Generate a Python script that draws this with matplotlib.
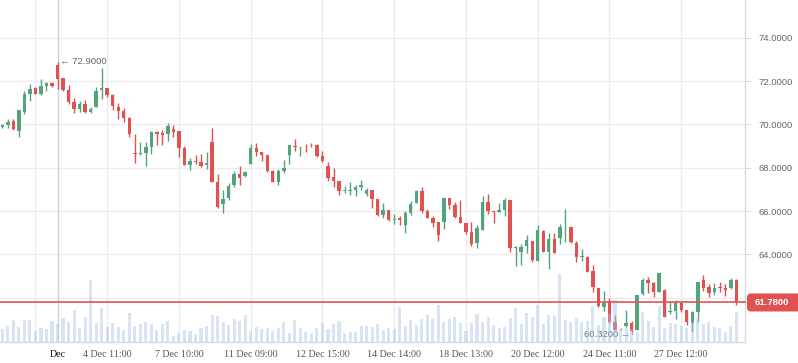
import matplotlib
matplotlib.use('Agg')
import matplotlib.pyplot as plt
from matplotlib.patches import FancyBboxPatch
from matplotlib.transforms import IdentityTransform, blended_transform_factory
import numpy as np

# ---------------- data ----------------
opens = [69.89, 69.98, 70.15, 69.69, 70.55, 71.42, 71.69, 71.42, 71.77, 71.91,
         72.74, 72.12, 71.60, 71.03, 70.69, 70.94, 70.57, 70.82, 71.60, 71.69,
         71.35, 70.82, 70.63, 70.29, 68.68, 68.63, 68.69, 68.97, 69.65, 69.62,
         69.55, 69.78, 69.69, 68.92, 68.14, 68.31, 68.26, 68.14, 69.18, 67.35,
         66.32, 66.60, 67.18, 67.69, 67.60, 68.15, 68.89, 68.72, 68.60, 67.85,
         67.34, 67.85, 68.60, 68.98, 68.98, 69.02, 69.02, 69.04, 68.56, 68.08,
         67.57, 67.37, 66.92, 66.94, 66.96, 67.11, 66.79, 66.96, 66.55, 65.83,
         66.05, 65.60, 65.66, 65.37, 65.92, 66.38, 66.92, 66.00, 65.68, 65.50,
         65.51, 66.58, 66.28, 65.72, 65.46, 65.03, 64.54, 65.12, 66.40, 66.00,
         65.97, 66.06, 66.51, 64.31, 64.12, 64.40, 64.62, 63.71, 65.08, 64.12,
         64.71, 64.75, 65.25, 65.28, 64.52, 63.88, 63.90, 63.23, 62.43, 61.58,
         61.85, 60.89, 60.56, 60.69, 60.85, 60.51, 62.15, 62.83, 62.69, 62.28,
         62.35, 61.32, 61.38, 61.77, 61.43, 60.85, 61.35, 62.82, 62.49, 62.25,
         62.49, 62.45, 62.43, 62.82]
highs = [70.02, 70.23, 70.25, 70.66, 71.54, 71.86, 71.72, 72.09, 71.97, 71.97,
         72.90, 72.12, 71.82, 71.20, 71.08, 71.12, 70.78, 71.71, 72.62, 71.69,
         71.42, 70.97, 70.74, 70.34, 69.55, 69.17, 69.17, 69.69, 69.69, 69.74,
         70.08, 69.97, 69.69, 69.00, 68.46, 68.58, 68.63, 68.74, 69.85, 67.72,
         66.95, 67.31, 67.83, 68.08, 67.86, 69.11, 69.15, 68.72, 68.60, 67.88,
         67.95, 68.35, 69.05, 69.32, 69.02, 69.11, 69.14, 69.07, 68.75, 68.24,
         67.97, 67.37, 67.15, 67.33, 67.21, 67.42, 67.08, 66.96, 66.55, 66.37,
         66.05, 65.86, 65.77, 65.98, 66.46, 66.96, 67.10, 66.08, 65.76, 65.50,
         66.58, 66.58, 66.40, 66.51, 65.46, 65.48, 65.37, 66.71, 66.78, 66.00,
         66.37, 66.60, 66.51, 64.40, 64.48, 64.89, 64.62, 65.35, 65.12, 65.00,
         64.98, 65.42, 66.09, 65.28, 64.62, 64.25, 63.94, 63.51, 62.43, 62.31,
         62.00, 61.20, 60.58, 61.45, 60.94, 62.12, 62.92, 62.94, 62.74, 63.14,
         62.40, 61.85, 61.88, 61.77, 61.43, 61.38, 62.74, 63.06, 62.65, 62.69,
         62.74, 62.62, 62.92, 62.85]
lows = [69.83, 69.85, 69.74, 69.43, 70.46, 71.09, 71.40, 71.35, 71.55, 71.71,
        71.65, 71.54, 70.94, 70.52, 70.55, 70.52, 70.52, 70.82, 71.18, 71.25,
        70.65, 70.23, 70.12, 69.42, 68.23, 68.58, 68.09, 68.63, 69.05, 69.05,
        69.25, 69.40, 68.51, 68.12, 67.89, 68.18, 68.05, 67.94, 67.35, 66.15,
        65.92, 66.51, 67.12, 67.20, 67.57, 68.15, 68.55, 68.31, 67.82, 67.34,
        67.22, 67.74, 68.15, 68.78, 68.56, 68.72, 68.95, 68.49, 68.24, 67.39,
        67.11, 66.73, 66.82, 66.75, 66.70, 66.96, 66.70, 66.15, 65.77, 65.66,
        65.54, 65.40, 65.37, 64.99, 65.82, 66.35, 65.91, 65.66, 65.27, 64.60,
        65.16, 66.09, 65.69, 65.46, 64.92, 64.40, 64.31, 65.12, 65.88, 65.46,
        65.94, 65.78, 64.12, 63.46, 63.52, 64.06, 63.63, 63.71, 64.12, 63.32,
        64.05, 64.49, 64.57, 64.51, 63.65, 63.68, 63.18, 62.28, 61.58, 61.38,
        60.82, 60.51, 60.50, 60.66, 60.32, 60.51, 62.12, 62.23, 62.05, 62.28,
        61.12, 61.25, 61.00, 61.32, 60.74, 60.48, 60.89, 62.32, 62.02, 62.14,
        62.25, 62.09, 62.40, 61.68]
closes = [69.97, 70.11, 69.78, 70.66, 71.40, 71.63, 71.42, 71.77, 71.92, 71.77,
          72.09, 71.57, 71.05, 70.71, 70.94, 70.57, 70.69, 71.55, 71.69, 71.35,
          70.86, 70.63, 70.29, 69.54, 68.65, 68.66, 68.94, 69.66, 69.57, 69.52,
          69.92, 69.66, 68.92, 68.12, 68.31, 68.26, 68.09, 68.22, 67.35, 66.18,
          66.54, 67.15, 67.69, 67.54, 67.78, 68.89, 68.72, 68.60, 67.85, 67.35,
          67.83, 67.97, 69.05, 68.95, 69.02, 68.99, 68.98, 68.56, 68.29, 67.51,
          67.37, 66.92, 66.95, 66.97, 67.10, 67.21, 66.96, 66.56, 65.82, 66.05,
          65.59, 65.65, 65.60, 65.92, 66.32, 66.93, 66.00, 65.68, 65.45, 64.90,
          66.58, 66.29, 65.74, 65.46, 65.05, 64.49, 65.20, 66.40, 66.00, 65.97,
          66.05, 66.51, 64.31, 64.35, 64.34, 64.65, 63.74, 65.12, 64.12, 64.71,
          64.08, 65.25, 65.28, 64.55, 63.89, 63.90, 63.20, 62.48, 61.63, 61.77,
          60.89, 60.51, 60.54, 60.85, 60.48, 62.12, 62.82, 62.69, 62.28, 63.14,
          61.12, 61.38, 61.77, 61.43, 60.89, 61.34, 62.74, 62.46, 62.23, 62.43,
          62.46, 62.34, 62.82, 61.78]
volumes = [40, 49, 67, 46, 67, 67, 32, 43, 40, 64,
           55, 73, 61, 97, 43, 76, 187, 58, 103, 46,
           58, 46, 37, 88, 49, 55, 61, 55, 37, 55,
           64, 19, 28, 37, 34, 25, 43, 49, 82, 79,
           61, 52, 70, 64, 82, 34, 46, 40, 43, 34,
           43, 61, 28, 67, 43, 31, 28, 43, 58, 40,
           55, 64, 28, 31, 31, 49, 49, 46, 55, 37,
           43, 40, 106, 49, 67, 52, 70, 82, 70, 112,
           61, 70, 76, 58, 34, 58, 85, 61, 76, 52,
           43, 46, 73, 103, 55, 88, 76, 112, 55, 82,
           79, 205, 67, 61, 73, 61, 64, 109, 50, 75,
           85, 127, 40, 45, 40, 30, 89, 62, 45, 109,
           43, 57, 55, 47, 42, 60, 70, 55, 59, 44,
           42, 29, 47, 89]

grid_positions = [6, 19, 32, 45, 58, 71, 84, 97, 110, 123]
label_positions = [10, 19, 32, 45, 58, 71, 84, 97, 110, 123]
x_labels = ['Dec', '4 Dec 11:00', '7 Dec 10:00', '11 Dec 09:00', '12 Dec 15:00',
            '14 Dec 14:00', '18 Dec 13:00', '20 Dec 12:00', '24 Dec 11:00',
            '27 Dec 12:00']
y_ticks = [62, 64, 66, 68, 70, 72, 74]
last_price = 61.78
max_index, max_price = 10, 72.90
min_index, min_price = 114, 60.32

UP = '#52a47d'
DOWN = '#e0514f'
GRID = '#ececec'
AXIS = '#d5dae0'

W, H = 798, 363
fig = plt.figure(figsize=(W / 100, H / 100), dpi=100)
rect = [0, 21 / H, 745 / W, 342 / H]
ax = fig.add_axes(rect)

o = np.array(opens); h = np.array(highs); l = np.array(lows); c = np.array(closes)
n = len(o)
x = np.arange(n)
colors = [UP if cc >= oo else DOWN for oo, cc in zip(o, c)]

ax.set_xlim(-0.42, 134.55)
ax.set_ylim(59.956, 75.738)

# grid
for g in grid_positions:
    ax.axvline(g, color=GRID, lw=1, zorder=0)
for yt in y_ticks:
    ax.axhline(yt, color=GRID, lw=1, zorder=0)
ax.axvline(max_index, color='#d2d2d2', lw=1, zorder=0.5)

# candles
ax.vlines(x, l, h, colors=colors, lw=1, zorder=2)
ax.bar(x, np.maximum(np.abs(c - o), 0.03), bottom=np.minimum(o, c), width=0.62,
       color=colors, zorder=3, linewidth=0)

# axes styling
ax.set_yticks(y_ticks)
ax.set_yticklabels(['' if v == 62 else f'{v:.4f}' for v in y_ticks])
ax.yaxis.tick_right()
ax.tick_params(axis='y', length=4, color=AXIS, labelcolor='#666666', labelsize=6.8,
               pad=6)
for t in ax.get_yticklabels():
    t.set_family(['Liberation Sans', 'DejaVu Sans'])
ax.set_xticks(label_positions)
ax.set_xticklabels(x_labels)
ax.tick_params(axis='x', length=0, labelcolor='#555555', labelsize=7.2, pad=6)
for i, t in enumerate(ax.get_xticklabels()):
    t.set_family(['Liberation Serif', 'DejaVu Serif'])
    if i == 0:
        t.set_color('#111111')
for s in ['top', 'left']:
    ax.spines[s].set_visible(False)
for s in ['right', 'bottom']:
    ax.spines[s].set_color(AXIS)
    ax.spines[s].set_linewidth(1)

# annotations for max / min
ax.text(max_index + 0.45, max_price, '\u2190 72.9000', ha='left', va='center',
        fontsize=6.8, color='#666666', family=['Liberation Sans', 'DejaVu Sans'],
        zorder=5)
ax.text(min_index - 0.3, min_price - 0.04, '60.3200 \u2192', ha='right', va='center',
        fontsize=6.8, color='#666666', family=['Liberation Sans', 'DejaVu Sans'],
        zorder=5)

# volume overlay
ax2 = fig.add_axes(rect, sharex=ax)
ax2.patch.set_visible(False)
ax2.set_ylim(0, 1026)
ax2.bar(x, volumes, width=0.56, color='#a9c4e6', alpha=0.45, linewidth=0)
ax2.axis('off')
ax2.set_xlim(-0.42, 134.55)

# last price line
tr = blended_transform_factory(ax2.transAxes, ax.transData)
ax2.plot([0, 1], [last_price, last_price], transform=tr, color='#e05252', lw=1.2,
         clip_on=False)

# last price label
y_disp = ax.transData.transform((0, last_price))[1]
box = FancyBboxPatch((747, y_disp - 9), 60, 18,
                     boxstyle='round,pad=0,rounding_size=4',
                     transform=IdentityTransform(), fc='#e05252', ec='none')
fig.add_artist(box)
fig.text(772 / W, y_disp / H, f'{last_price:.4f}', ha='center', va='center',
         color='white', fontsize=6.8, fontweight='bold',
         family=['Liberation Sans', 'DejaVu Sans'])

fig.savefig('out.png', dpi=100)
